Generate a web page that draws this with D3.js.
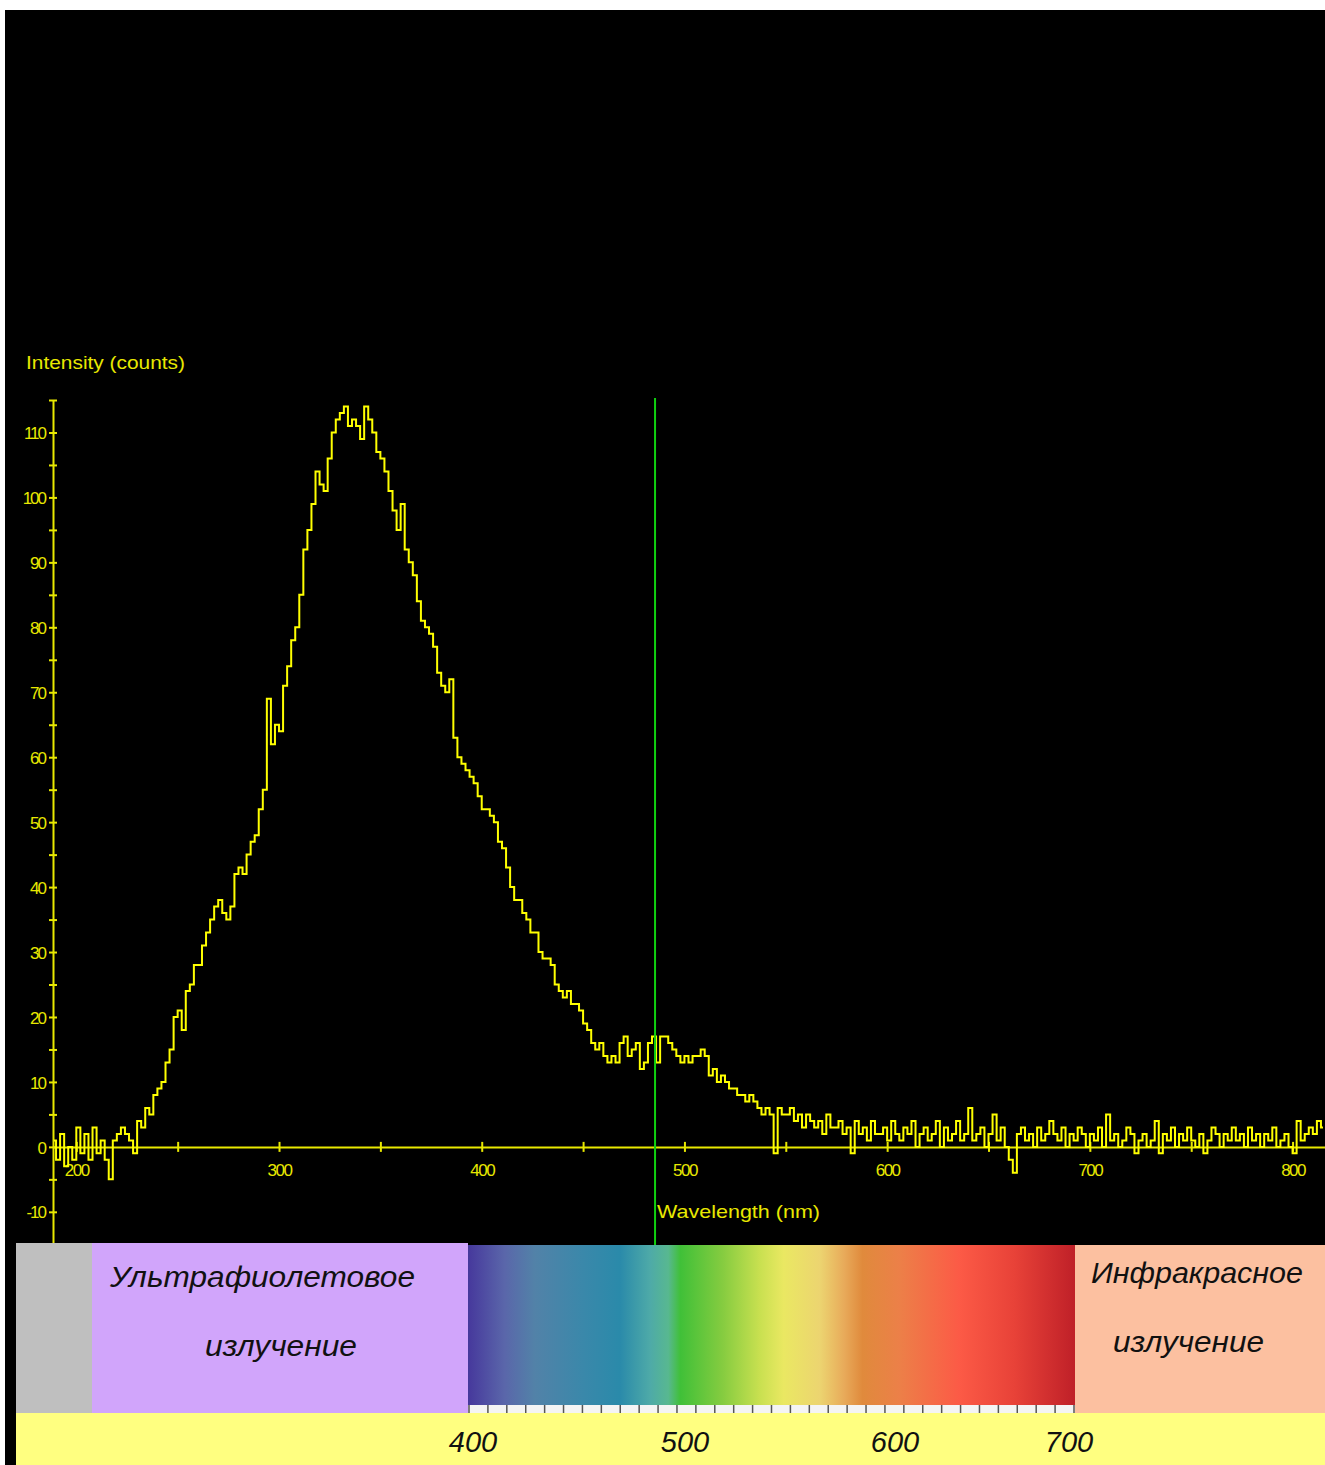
<!DOCTYPE html>
<html>
    <head>
        <title>Spectrum</title>
        <meta charset="UTF-8">
        <script src="https://d3js.org/d3.v7.min.js"></script>
        <style>
            body { margin: 0; background: #fff; }
        </style>
    </head>
    <body>
        <script>
            // measured spectrum, one reading every 2 nm starting at 189 nm
            var wavelengthStart = 189, wavelengthStep = 2;
            var counts = [
                1,-2,2,-3,0,-2,3,-1,2,-2,          // 189
                3,-1,1,-2,-5,1,2,3,2,1,            // 209
                -1,4,3,6,5,8,9,10,13,15,           // 229
                20,21,18,24,25,28,28,31,33,35,     // 249
                37,38,36,35,37,42,43,42,45,47,     // 269
                48,52,55,69,62,65,64,71,74,78,     // 289
                80,85,92,95,99,104,102,101,106,110,// 309
                112,113,114,111,112,111,109,114,112,110, // 329
                107,106,104,101,98,95,99,92,90,88, // 349
                84,81,80,79,77,73,71,70,72,63,     // 369
                60,59,58,57,56,54,52,52,51,50,     // 389
                47,46,43,40,38,38,36,35,33,33,     // 409
                30,29,29,28,25,24,23,24,22,22,     // 429
                21,19,18,16,15,16,14,13,14,13,     // 449
                16,17,14,15,16,12,13,16,17,13,     // 469
                17,17,16,15,14,13,14,13,14,14,     // 489
                15,14,11,12,10,11,10,9,9,8,        // 509
                8,7,8,7,6,5,6,5,-1,6,              // 529
                5,5,6,4,5,3,5,4,3,4,               // 549
                2,5,3,3,4,2,3,-1,4,2,              // 569
                3,1,4,2,2,3,1,4,2,1,               // 589
                3,2,4,0,2,3,1,2,4,0,               // 609
                3,1,2,4,1,2,6,1,2,3,               // 629
                0,2,5,1,3,0,-2,-4,2,3,             // 649
                1,2,0,3,1,2,4,2,1,3,               // 669
                0,2,1,3,2,0,2,1,3,0,               // 689
                5,1,2,0,1,3,2,-1,1,2,              // 709
                0,1,4,-1,2,1,3,0,2,1,              // 729
                3,1,0,2,-1,1,3,2,0,2,              // 749
                1,3,1,2,0,3,1,2,0,2,               // 769
                1,3,0,1,2,0,-1,4,1,2,              // 789
                3,2,4,3                            // 809
            ];
            var markerWavelength = 485.5;
            var xTicks = [200,250,300,350,400,450,500,550,600,650,700,750,800];
            var yTicks = [-10,-5,0,5,10,15,20,25,30,35,40,45,50,55,60,65,70,75,80,85,90,95,100,105,110,115];
            var barLabels = [400,500,600,700];
            var uvLabel = ["Ультрафиолетовое","излучение"];
            var irLabel = ["Инфракрасное","излучение"];

            var w = 1325, h = 1465;
            var axisColor = "#e8e800";

            var data = counts.map(function(c, i){ return {wl: wavelengthStart + i*wavelengthStep, c: c}; });

            var svg = d3.select("body").append("svg")
                    .attr("width", w)
                    .attr("height", h);

            svg.append("rect").attr("x",5).attr("y",10).attr("width",w-5).attr("height",h-10).attr("fill","#000");

            var x = d3.scaleLinear().domain([188.5, 816]).range([53, 1325]);
            var y = d3.scaleLinear().domain([-14.8, 115]).range([1243, 400]);

            // y axis
            var yAxis = svg.append("g")
                    .attr("transform","translate(" + x(188.5) + ",0)")
                    .call(d3.axisLeft(y).tickValues(yTicks).tickSizeOuter(0)
                        .tickFormat(function(d){ return d % 10 === 0 ? d : ""; }));
            yAxis.select(".domain").attr("stroke", axisColor).attr("stroke-width", 2);
            yAxis.selectAll(".tick line").attr("x1",-4).attr("x2",4).attr("stroke",axisColor).attr("stroke-width",2);
            yAxis.selectAll(".tick text")
                    .attr("x",-8).attr("dy","0.36em")
                    .attr("fill",axisColor)
                    .style("font-family","Liberation Sans, Arial, sans-serif")
                    .style("font-size","17px")
                    .style("letter-spacing","-2px");

            // x axis
            var xAxis = svg.append("g")
                    .attr("transform","translate(0," + y(0) + ")")
                    .call(d3.axisBottom(x).tickValues(xTicks).tickSizeOuter(0)
                        .tickFormat(function(d){ return d % 100 === 0 ? d : ""; }));
            xAxis.select(".domain").attr("stroke", axisColor).attr("stroke-width", 2);
            xAxis.selectAll(".tick line").attr("y1",-5).attr("y2",5).attr("stroke",axisColor).attr("stroke-width",2);
            xAxis.selectAll(".tick text")
                    .attr("y",29).attr("dy",0)
                    .attr("fill",axisColor)
                    .style("font-family","Liberation Sans, Arial, sans-serif")
                    .style("font-size","17px")
                    .style("letter-spacing","-1.5px");

            svg.append("text")
                    .attr("x",26).attr("y",369)
                    .attr("fill",axisColor)
                    .attr("textLength",159).attr("lengthAdjust","spacingAndGlyphs")
                    .style("font-family","Liberation Sans, Arial, sans-serif")
                    .style("font-size","19px")
                    .text("Intensity (counts)");

            svg.append("text")
                    .attr("x",657).attr("y",1218)
                    .attr("fill",axisColor)
                    .attr("textLength",163).attr("lengthAdjust","spacingAndGlyphs")
                    .style("font-family","Liberation Sans, Arial, sans-serif")
                    .style("font-size","19px")
                    .text("Wavelength (nm)");

            // trace
            var line = d3.line()
                    .x(function(d){ return x(d.wl); })
                    .y(function(d){ return y(d.c); })
                    .curve(d3.curveStep);
            svg.append("path")
                    .datum(data)
                    .attr("d", line)
                    .attr("fill","none")
                    .attr("stroke","#ffff00")
                    .attr("stroke-width",2);

            // bottom panel
            svg.append("rect").attr("x",16).attr("y",1243).attr("width",76).attr("height",170).attr("fill","#bfbfbf");
            svg.append("rect").attr("x",92).attr("y",1243).attr("width",376).attr("height",170).attr("fill","#d1a5fb");
            svg.append("rect").attr("x",1075).attr("y",1245).attr("width",250).attr("height",168).attr("fill","#fcc0a0");
            svg.append("rect").attr("x",16).attr("y",1413).attr("width",1309).attr("height",52).attr("fill","#ffff80");

            var grad = svg.append("defs").append("linearGradient").attr("id","spec");
            var stops = [[0,"#46389c"],[0.06,"#5a66aa"],[0.11,"#5282a8"],[0.19,"#3a88aa"],[0.25,"#2a8aaa"],[0.3,"#4eaaa8"],
                         [0.33,"#58b890"],[0.35,"#40c038"],[0.42,"#86cc40"],[0.48,"#c8e050"],[0.52,"#eae862"],[0.58,"#ecd470"],
                         [0.62,"#e8aa5a"],[0.65,"#e08a3c"],[0.71,"#ec8048"],[0.81,"#fc5a46"],[0.9,"#e84238"],[1,"#bf2028"]];
            grad.selectAll("stop").data(stops).enter().append("stop")
                    .attr("offset",function(d){ return d[0]; })
                    .attr("stop-color",function(d){ return d[1]; });

            var bar = d3.scaleLinear().domain([400,700]).range([468,1075]);
            svg.append("rect").attr("x",bar(400)).attr("y",1245).attr("width",bar(700)-bar(400)).attr("height",160).attr("fill","url(#spec)");
            svg.append("rect").attr("x",bar(400)).attr("y",1405).attr("width",bar(700)-bar(400)).attr("height",8).attr("fill","#f4f4f4");
            var ruler = d3.scaleLinear().domain([0,32]).range([bar(400)+1, bar(700)-1]);
            svg.selectAll(".rtick").data(d3.range(33)).enter().append("line")
                    .attr("class","rtick")
                    .attr("x1",function(d){ return ruler(d); }).attr("x2",function(d){ return ruler(d); })
                    .attr("y1",1405).attr("y2",1413)
                    .attr("stroke","#555").attr("stroke-width",1.5);

            // green marker line
            svg.append("line")
                    .attr("x1",x(markerWavelength)).attr("x2",x(markerWavelength))
                    .attr("y1",y(115)-2).attr("y2",1245)
                    .attr("stroke","#10d010").attr("stroke-width",2);

            var labelX = d3.scaleLinear().domain([400,500,600,700]).range([473,685,895,1069]);
            svg.selectAll(".blab").data(barLabels).enter().append("text")
                    .attr("class","blab")
                    .attr("x",function(d){ return labelX(d); })
                    .attr("y",1452)
                    .attr("text-anchor","middle")
                    .attr("fill","#111")
                    .style("font-family","Liberation Sans, Arial, sans-serif")
                    .style("font-style","italic")
                    .style("font-size","29px")
                    .text(function(d){ return d; });

            function regionText(txt, x0, yb, len){
                svg.append("text")
                        .attr("x",x0).attr("y",yb)
                        .attr("fill","#111")
                        .attr("textLength",len).attr("lengthAdjust","spacingAndGlyphs")
                        .style("font-family","Liberation Sans, Arial, sans-serif")
                        .style("font-style","italic")
                        .style("font-size","30px")
                        .text(txt);
            }
            regionText(uvLabel[0],110,1287,305);
            regionText(uvLabel[1],205,1356,152);
            regionText(irLabel[0],1091,1283,212);
            regionText(irLabel[1],1113,1352,151);
        </script>
    </body>
</html>
